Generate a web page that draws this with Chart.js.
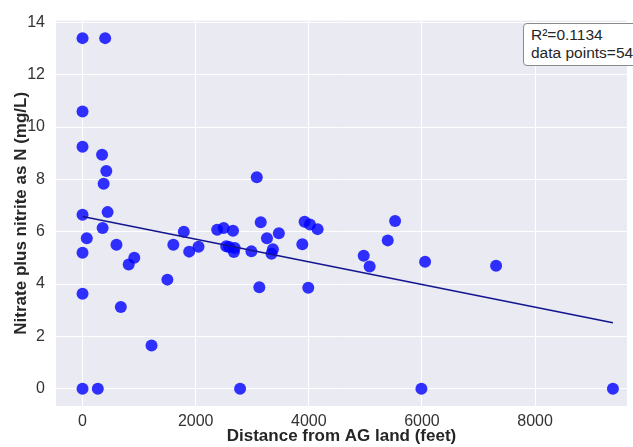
<!DOCTYPE html>
<html lang="en">
<head>
    <meta charset="UTF-8">
    <title>Nitrate vs distance from AG land</title>
    <script src="https://cdn.jsdelivr.net/npm/chart.js"></script>
    <style>
        body {
            margin: 0;
            background: #fff;
            overflow: hidden;
        }
        .chart-container {
            position: relative;
            width: 633px;
            height: 447px;
            overflow: hidden;
        }
        .stats-box {
            position: absolute;
            left: 523px;
            top: 23px;
            width: 130px;
            height: 43px;
            padding: 2px 0 0 7px;
            box-sizing: border-box;
            background: #fff;
            border: 1px solid #8a8a8a;
            border-radius: 4px;
            font-family: "Liberation Sans", Arial, sans-serif;
            font-size: 15.5px;
            line-height: 18px;
            color: #262626;
        }
    </style>
</head>
<body>

    <div class="chart-container">
        <canvas id="scatterChart" width="633" height="447"></canvas>
        <div class="stats-box">R²=0.1134<br>data points=54</div>
    </div>

    <script>
        // distance from AG land (feet) and nitrate+nitrite as N (mg/L)
        const distFeet = [0, 400, 0, 0, 345, 420, 373, 3080, 0, 443,
            75, 0, 355, 600, 816, 915, 0, 677, 1220, 1500,
            1605, 1790, 1885, 2050, 2380, 2495, 2660, 2540, 2590, 2690,
            2675, 2785, 2985, 3150, 3125, 3260, 3365, 3340, 3470, 3885,
            3925, 3990, 0, 270, 4020, 4155, 5525, 5395, 4970, 5075,
            6055, 7310, 5990, 9375];
        const nitrate = [13.4, 13.4, 10.6, 9.25, 8.94, 8.32, 7.83, 8.08, 6.65, 6.75,
            5.75, 5.2, 6.14, 5.5, 4.75, 5.01, 3.63, 3.12, 1.65, 4.17,
            5.5, 6.0, 5.24, 5.43, 6.08, 6.14, 6.04, 5.45, 5.42, 5.38,
            5.23, 0, 5.25, 6.36, 3.88, 5.75, 5.33, 5.16, 5.94, 5.52,
            6.38, 3.86, 0, 0, 6.28, 6.1, 6.41, 5.67, 5.08, 4.67,
            4.85, 4.7, 0, 0];

        // regression line end points
        const fitX = [0, 9375];
        const fitY = [6.58, 2.52];

        const xTicks = [0, 2000, 4000, 6000, 8000];
        const yTicks = [0, 2, 4, 6, 8, 10, 12, 14];

        const points = distFeet.map((d, i) => ({ x: d, y: nitrate[i] }));
        const fitLine = fitX.map((d, i) => ({ x: d, y: fitY[i] }));

        Chart.defaults.font.family = '"Liberation Sans", Arial, sans-serif';

        const plotBackground = {
            id: 'plotBackground',
            beforeDraw(chart) {
                const { ctx, chartArea } = chart;
                ctx.save();
                ctx.fillStyle = '#eaeaf2';
                ctx.fillRect(chartArea.left, chartArea.top, chartArea.right - chartArea.left, chartArea.bottom - chartArea.top);
                ctx.restore();
            }
        };

        const ctx = document.getElementById('scatterChart').getContext('2d');
        new Chart(ctx, {
            type: 'scatter',
            data: {
                datasets: [{
                    type: 'line',
                    data: fitLine,
                    borderColor: '#14148f',
                    borderWidth: 1.6,
                    pointRadius: 0,
                    fill: false,
                    order: 0
                }, {
                    data: points,
                    backgroundColor: 'rgba(0, 0, 255, 0.8)',
                    borderWidth: 0,
                    pointRadius: 6,
                    pointHoverRadius: 6,
                    order: 1
                }]
            },
            options: {
                responsive: false,
                animation: false,
                devicePixelRatio: 1,
                layout: { padding: { top: 16, right: 0, left: 0, bottom: 0 } },
                plugins: {
                    legend: { display: false },
                    tooltip: { enabled: false }
                },
                scales: {
                    x: {
                        type: 'linear',
                        min: -469,
                        max: 9624,
                        afterBuildTicks: (scale) => { scale.ticks = xTicks.map(v => ({ value: v })); },
                        afterFit: (scale) => { scale.height = 41; },
                        grid: { color: '#ffffff', lineWidth: 1, drawTicks: false },
                        border: { display: false },
                        ticks: {
                            padding: 6,
                            color: '#333333',
                            font: { size: 16 },
                            callback: (v) => String(v)
                        },
                        title: {
                            display: true,
                            text: 'Distance from AG land (feet)',
                            color: '#262626',
                            font: { size: 17, weight: 'bold' },
                            padding: { top: 0, bottom: 0 }
                        }
                    },
                    y: {
                        type: 'linear',
                        min: -0.66,
                        max: 14.07,
                        afterBuildTicks: (scale) => { scale.ticks = yTicks.map(v => ({ value: v })); },
                        afterFit: (scale) => { scale.width = 56; },
                        grid: { color: '#ffffff', lineWidth: 1, drawTicks: false },
                        border: { display: false },
                        ticks: {
                            padding: 11,
                            color: '#333333',
                            font: { size: 16 },
                            callback: (v) => String(v)
                        },
                        title: {
                            display: true,
                            text: 'Nitrate plus nitrite as N (mg/L)',
                            color: '#262626',
                            font: { size: 17, weight: 'bold' },
                            padding: { top: 11, bottom: 0 }
                        }
                    }
                }
            },
            plugins: [plotBackground]
        });
    </script>
</body>
</html>
